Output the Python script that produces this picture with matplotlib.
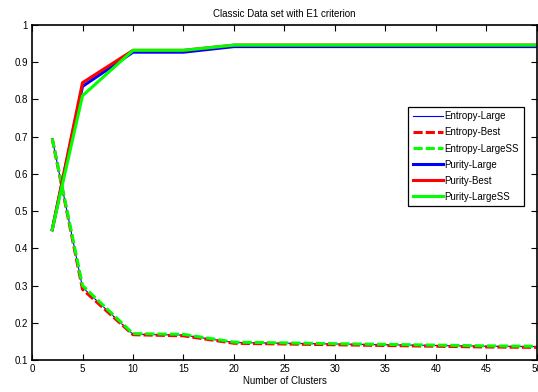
import matplotlib
matplotlib.use("Agg")
import matplotlib.pyplot as plt

plt.rcParams['font.family'] = ['Liberation Sans', 'DejaVu Sans']

clusters = [2, 5, 10, 15, 20, 25, 30, 35, 40, 45, 50]

entropy_large = [0.695, 0.295, 0.169, 0.167, 0.147, 0.145, 0.143, 0.141, 0.139, 0.137, 0.136]
entropy_best = [0.695, 0.290, 0.168, 0.165, 0.145, 0.143, 0.141, 0.139, 0.137, 0.135, 0.134]
entropy_largess = [0.695, 0.300, 0.171, 0.169, 0.148, 0.146, 0.144, 0.142, 0.140, 0.138, 0.137]

purity_large = [0.450, 0.835, 0.927, 0.927, 0.942, 0.942, 0.942, 0.942, 0.942, 0.942, 0.942]
purity_best = [0.450, 0.845, 0.932, 0.932, 0.946, 0.946, 0.946, 0.946, 0.946, 0.946, 0.946]
purity_largess = [0.450, 0.810, 0.932, 0.932, 0.946, 0.946, 0.946, 0.946, 0.946, 0.946, 0.946]

fig = plt.figure(figsize=(5.38, 3.92), dpi=100)
ax = fig.add_axes([0.0595, 0.0816, 0.9385, 0.8546])

ax.plot(clusters, entropy_large, color='#0000ff', lw=0.8, label='Entropy-Large')
ax.plot(clusters, entropy_best, color='#ff0000', lw=2.2, ls=(0, (3, 1)), label='Entropy-Best')
ax.plot(clusters, entropy_largess, color='#00ff00', lw=2.2, ls=(0, (3, 1)), label='Entropy-LargeSS')
ax.plot(clusters, purity_large, color='#0000ff', lw=2.2, label='Purity-Large')
ax.plot(clusters, purity_best, color='#ff0000', lw=2.2, label='Purity-Best')
ax.plot(clusters, purity_largess, color='#00ff00', lw=2.2, label='Purity-LargeSS')

ax.set_xlim(0, 50)
ax.set_ylim(0.1, 1)
ax.set_xticks(range(0, 51, 5))
ax.set_yticks([0.1, 0.2, 0.3, 0.4, 0.5, 0.6, 0.7, 0.8, 0.9, 1])
ax.set_yticklabels(['0.1', '0.2', '0.3', '0.4', '0.5', '0.6', '0.7', '0.8', '0.9', '1'])
ax.tick_params(direction='in', top=True, right=True, length=4, width=0.8, labelsize=7, pad=3)
for s in ax.spines.values():
    s.set_linewidth(1.2)

ax.set_title('Classic Data set with E1 criterion', fontsize=7, pad=6)
ax.set_xlabel('Number of Clusters', fontsize=7, labelpad=1)

leg = ax.legend(loc='upper left', bbox_to_anchor=(0.745, 0.755), fontsize=7,
                frameon=True, fancybox=False, edgecolor='black', framealpha=1,
                handlelength=3.1, handletextpad=0.2, labelspacing=0.62, borderpad=0.45,
                borderaxespad=0)
leg.get_frame().set_linewidth(0.9)

fig.savefig('out.png', dpi=100)
